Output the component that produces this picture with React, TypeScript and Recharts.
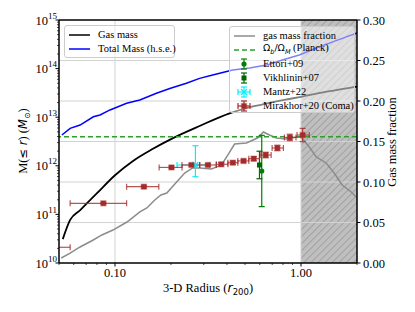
import React from 'react';
import { ComposedChart, Line, Scatter, XAxis, YAxis, ErrorBar, ReferenceLine, ReferenceArea } from 'recharts';

const serif = '"Liberation Serif", "Times New Roman", serif';
const mathFont = '"DejaVu Sans", sans-serif';

// gas mass profile, left axis (M_sun)
const gasMassR = [0.0524, 0.0574, 0.065, 0.0798, 0.1, 0.125, 0.16, 0.205, 0.285, 0.413, 0.5, 0.6, 0.8, 1.0, 1.4, 2.0];
const gasMassM = [3.1e10, 7.7e10, 1.23e11, 2.7e11, 6.4e11, 1.26e12, 2.24e12, 3.72e12, 6.6e12, 1.2e13, 1.51e13, 1.78e13, 2.24e13, 2.63e13, 3.39e13, 4.27e13];

// hydrostatic total mass, left axis
const totalMassR = [0.0518, 0.0574, 0.0649, 0.0765, 0.0831, 0.094, 0.1155, 0.136, 0.167, 0.197, 0.242, 0.285, 0.335, 0.429, 0.529, 0.652, 0.794, 0.979, 1.21, 1.47, 2.0];
const totalMassM = [4.3e12, 5.9e12, 6.9e12, 1.02e13, 1.11e13, 1.41e13, 1.93e13, 2.26e13, 3.1e13, 3.9e13, 5.0e13, 6.3e13, 7.4e13, 9.4e13, 1.03e14, 1.18e14, 1.5e14, 1.9e14, 2.65e14, 3.5e14, 5.4e14];

// gas mass fraction, right axis
const fracR = [0.0514, 0.0574, 0.0649, 0.0764, 0.085, 0.0975, 0.116, 0.1361, 0.1483, 0.1637, 0.1767, 0.1899, 0.2121, 0.237, 0.2616, 0.2853, 0.3306, 0.3741, 0.4133, 0.4394, 0.509, 0.5836, 0.6283, 0.6764, 0.7372, 0.8343, 0.9437, 1.0037, 1.1078, 1.2077, 1.366, 1.5074, 1.6656, 1.8618, 1.98];
const fracF = [0.0062, 0.0123, 0.0198, 0.0284, 0.0346, 0.0407, 0.0506, 0.063, 0.0679, 0.0778, 0.084, 0.0864, 0.0988, 0.1111, 0.1173, 0.1173, 0.116, 0.121, 0.137, 0.1469, 0.1481, 0.1543, 0.1617, 0.158, 0.1543, 0.1531, 0.1556, 0.1556, 0.1432, 0.1309, 0.1235, 0.1111, 0.0963, 0.0877, 0.0815];

const planckFrac = 0.156;

// Mirakhor+20 (Coma); innermost bin is centred left of the axis, only the part from the edge shows
const mirakhorEdgeR = [0.05, 0.0574];
const mirakhorEdgeF = [0.0194, 0.0194];

const mirakhorR = [0.0866, 0.143, 0.2012, 0.2575, 0.316, 0.3728, 0.43, 0.491, 0.5572, 0.646, 0.7465, 0.871, 1.02];
const mirakhorRLo = [0.0574, 0.1155, 0.1727, 0.2293, 0.2853, 0.3505, 0.4045, 0.4574, 0.524, 0.6034, 0.6993, 0.814, 0.952];
const mirakhorRHi = [0.1155, 0.172, 0.2293, 0.2853, 0.3505, 0.4045, 0.4574, 0.524, 0.598, 0.691, 0.804, 0.94, 1.108];
const mirakhorF = [0.0737, 0.0942, 0.118, 0.121, 0.121, 0.1219, 0.1238, 0.126, 0.1288, 0.1333, 0.142, 0.155, 0.158];
const mirakhorFErr = [0.001, 0.0015, 0.0015, 0.0015, 0.0015, 0.002, 0.002, 0.002, 0.0025, 0.0033, 0.0033, 0.004, 0.0082];

// Mantz+22
const mantzR = [0.2706];
const mantzRErr = [[0.055, 0.052]];
const mantzF = [0.121];
const mantzFErr = [[0.0145, 0.0238]];

// Ettori+09 / Vikhlinin+07
const ettoriR = [0.615];
const ettoriF = [0.1136];
const ettoriFErr = [0.044];
const vikhR = [0.598];
const vikhF = [0.121];
const vikhFErr = [0.017];

const radiusMajor = [0.1, 1];
const radiusMinor = [0.05, 0.06, 0.07, 0.08, 0.09, 0.2, 0.3, 0.4, 0.5, 0.6, 0.7, 0.8, 0.9, 2];
const massMajor = [1e10, 1e11, 1e12, 1e13, 1e14, 1e15];
const fracTicks = [0, 0.05, 0.1, 0.15, 0.2, 0.25, 0.3];
const fracGrid = [0.05, 0.1, 0.15, 0.2, 0.25];

const massMinor = massMajor.slice(0, -1).flatMap((d) => [2, 3, 4, 5, 6, 7, 8, 9].map((k) => k * d));

const gasMassRows = gasMassR.map((r, i) => ({ r, v: gasMassM[i] }));
const totalMassRows = totalMassR.map((r, i) => ({ r, v: totalMassM[i] }));
const fracRows = fracR.map((r, i) => ({ r, f: fracF[i] }));
const mirakhorRows = mirakhorR.map((r, i) => ({
  r,
  f: mirakhorF[i],
  rErr: [r - mirakhorRLo[i], mirakhorRHi[i] - r],
  fErr: [mirakhorFErr[i], mirakhorFErr[i]],
}));
const mirakhorEdgeRows = mirakhorEdgeR.map((r, i) => ({ r, f: mirakhorEdgeF[i] }));
const mirakhorEdgeCap = mirakhorEdgeRows.slice(-1);
const mantzRows = mantzR.map((r, i) => ({ r, f: mantzF[i], rErr: mantzRErr[i], fErr: mantzFErr[i] }));
const ettoriRows = ettoriR.map((r, i) => ({ r, f: ettoriF[i], fErr: ettoriFErr[i] }));
const vikhRows = vikhR.map((r, i) => ({ r, f: vikhF[i], fErr: vikhFErr[i] }));

const brown = '#a52a2a';
const cyan = '#00eeff';
const green = '#008000';
const darkGreen = '#006400';
const planckGreen = '#2ca02c';
const gridColor = '#d3d3d3';

const LeftTick = (props: any) => {
  const { x, y, payload } = props;
  const v = payload.value;
  const exp = Math.round(Math.log10(v));
  const major = Math.abs(v - Math.pow(10, exp)) / v < 1e-6;
  return (
    <g>
      <line x1={x} x2={x - (major ? 3.5 : 2)} y1={y} y2={y} stroke="#000" strokeWidth={major ? 1 : 0.7} />
      {major && (
        <text x={x - 2} y={y} dy={4.5} textAnchor="end" fontFamily={serif} fontSize={12.5} fill="#000">
          <tspan>10</tspan>
          <tspan dy={-6} fontSize={9}>{exp}</tspan>
        </text>
      )}
    </g>
  );
};

const RadiusTick = (props: any) => {
  const { x, y, payload } = props;
  const v = payload.value;
  const major = radiusMajor.some((m) => Math.abs(m - v) < 1e-9);
  return (
    <g>
      <line x1={x} x2={x} y1={y} y2={y + (major ? 3.5 : 2)} stroke="#000" strokeWidth={major ? 1 : 0.7} />
      {major && (
        <text x={x} y={y + 14} textAnchor="middle" fontFamily={serif} fontSize={12.5} fill="#000">
          {v.toFixed(2)}
        </text>
      )}
    </g>
  );
};

const FracTick = (props: any) => {
  const { x, y, payload } = props;
  return (
    <g>
      <line x1={x} x2={x + 3.5} y1={y} y2={y} stroke="#000" strokeWidth={1} />
      <text x={x + 6} y={y} dy={4.5} textAnchor="start" fontFamily={serif} fontSize={12.5} fill="#000">
        {payload.value.toFixed(2)}
      </text>
    </g>
  );
};

const squareShape = (size: number, fill: string, halo?: string) => (p: any) => (
  <rect
    x={p.cx - size / 2}
    y={p.cy - size / 2}
    width={size}
    height={size}
    fill={fill}
    stroke={halo || 'none'}
    strokeWidth={halo ? 1.5 : 0}
  />
);
const circleShape = (r: number, fill: string) => (p: any) => <circle cx={p.cx} cy={p.cy} r={r} fill={fill} />;
const crossShape = (p: any) => (
  <g stroke={cyan} strokeWidth={1.2}>
    <line x1={p.cx - 3} x2={p.cx + 3} y1={p.cy - 3} y2={p.cy + 3} />
    <line x1={p.cx - 3} x2={p.cx + 3} y1={p.cy + 3} y2={p.cy - 3} />
  </g>
);
const capShape = (p: any) => (
  <line x1={p.cx} x2={p.cx} y1={p.cy - 3} y2={p.cy + 3} stroke={brown} strokeOpacity={0.8} strokeWidth={1.2} />
);

const legendBox: React.CSSProperties = {
  position: 'absolute',
  background: 'rgba(255,255,255,0.5)',
  border: '1px solid #cccccc',
  borderRadius: 3,
  fontFamily: serif,
  fontSize: 10.5,
  color: '#000',
  boxSizing: 'border-box',
};

const Row = ({ top, icon, children }: { top: number; icon: React.ReactNode; children: React.ReactNode }) => (
  <div style={{ position: 'absolute', left: 3, top, height: 12, display: 'flex', alignItems: 'center', whiteSpace: 'nowrap' }}>
    <svg width={22} height={12} style={{ display: 'block' }}>{icon}</svg>
    <span style={{ marginLeft: 8, lineHeight: '12px' }}>{children}</span>
  </div>
);

const vBar = (color: string) => (
  <g stroke={color} strokeWidth={1.2}>
    <line x1={11} x2={11} y1={1} y2={11} />
    <line x1={8} x2={14} y1={1} y2={1} />
    <line x1={8} x2={14} y1={11} y2={11} />
  </g>
);
const hBar = (color: string) => (
  <g stroke={color} strokeWidth={1.2}>
    <line x1={5} x2={17} y1={6} y2={6} />
    <line x1={5} x2={5} y1={3} y2={9} />
    <line x1={17} x2={17} y1={3} y2={9} />
  </g>
);

export default function App() {
  return (
    <div style={{ position: 'absolute', left: 0, top: 0, width: 415, height: 312, background: '#fff' }}>
      <ComposedChart width={415} height={312} margin={{ top: 20, right: 0, bottom: 19, left: 19 }}>
        <defs>
          <pattern id="hatch" patternUnits="userSpaceOnUse" width={5} height={5} patternTransform="rotate(45)">
            <rect width={5} height={5} fill="#bfbfbf" />
            <line x1={0} y1={0} x2={0} y2={5} stroke="#7d7d7d" strokeWidth={0.9} />
          </pattern>
        </defs>
        <XAxis
          dataKey="r"
          type="number"
          scale="log"
          domain={[0.05, 2]}
          allowDataOverflow
          ticks={[...radiusMinor, ...radiusMajor].sort((a, b) => a - b)}
          interval={0}
          tick={<RadiusTick />}
          tickLine={false}
          tickSize={0}
          tickMargin={0}
          height={30}
          axisLine={{ stroke: '#000', strokeWidth: 1.5 }}
        />
        <YAxis
          yAxisId="m"
          dataKey="v"
          type="number"
          scale="log"
          domain={[1e10, 1e15]}
          allowDataOverflow
          ticks={[...massMajor, ...massMinor].sort((a, b) => a - b)}
          interval={0}
          tick={<LeftTick />}
          tickLine={false}
          tickSize={0}
          tickMargin={0}
          width={40}
          axisLine={{ stroke: '#000', strokeWidth: 1.5 }}
        />
        <YAxis
          yAxisId="f"
          orientation="right"
          dataKey="f"
          type="number"
          domain={[0, 0.3]}
          ticks={fracTicks}
          interval={0}
          tick={<FracTick />}
          tickLine={false}
          tickSize={0}
          tickMargin={0}
          width={58}
          axisLine={{ stroke: '#000', strokeWidth: 1.5 }}
        />

        {/* grid follows the major x ticks and the right-axis ticks */}
        {radiusMajor.map((v) => (
          <ReferenceLine key={'gx' + v} x={v} yAxisId="m" stroke={gridColor} strokeWidth={1} />
        ))}
        {fracGrid.map((v) => (
          <ReferenceLine key={'gy' + v} y={v} yAxisId="f" stroke={gridColor} strokeWidth={1} />
        ))}

        {/* region beyond r200 */}
        <ReferenceArea x1={1} x2={2} yAxisId="m" y1={1e10} y2={1e15} fill="url(#hatch)" fillOpacity={1} stroke="none" />

        <Line data={gasMassRows} dataKey="v" yAxisId="m" type="monotone" stroke="#000" strokeWidth={1.8} dot={false} isAnimationActive={false} />
        <Line data={totalMassRows} dataKey="v" yAxisId="m" type="linear" stroke="#0000ff" strokeWidth={1.5} dot={false} isAnimationActive={false} />
        <Line data={fracRows} dataKey="f" yAxisId="f" type="linear" stroke="#8c8c8c" strokeWidth={1.5} dot={false} isAnimationActive={false} />

        <ReferenceLine y={planckFrac} yAxisId="f" stroke={planckGreen} strokeWidth={1.5} strokeDasharray="5 3" />

        <Scatter data={ettoriRows} dataKey="f" yAxisId="f" shape={circleShape(2.6, green)} isAnimationActive={false}>
          <ErrorBar dataKey="fErr" direction="y" width={3} stroke={green} strokeWidth={1.2} />
        </Scatter>
        <Scatter data={vikhRows} dataKey="f" yAxisId="f" shape={squareShape(5, darkGreen)} isAnimationActive={false}>
          <ErrorBar dataKey="fErr" direction="y" width={3} stroke={darkGreen} strokeWidth={1.2} />
        </Scatter>
        <Scatter data={mantzRows} dataKey="f" yAxisId="f" shape={crossShape} isAnimationActive={false}>
          <ErrorBar dataKey="rErr" direction="x" width={3} stroke={cyan} strokeWidth={1.2} />
          <ErrorBar dataKey="fErr" direction="y" width={3} stroke={cyan} strokeWidth={1.2} />
        </Scatter>
        <Line data={mirakhorEdgeRows} dataKey="f" yAxisId="f" type="linear" stroke={brown} strokeOpacity={0.8} strokeWidth={1.2} dot={false} isAnimationActive={false} />
        <Scatter data={mirakhorEdgeCap} dataKey="f" yAxisId="f" shape={capShape} isAnimationActive={false} />
        <Scatter data={mirakhorRows} dataKey="f" yAxisId="f" shape={squareShape(5, brown, 'rgba(165,42,42,0.35)')} isAnimationActive={false}>
          <ErrorBar dataKey="rErr" direction="x" width={3} stroke={brown} strokeOpacity={0.8} strokeWidth={1.2} />
          <ErrorBar dataKey="fErr" direction="y" width={3} stroke={brown} strokeOpacity={0.8} strokeWidth={1.2} />
        </Scatter>

        <ReferenceLine y={1e15} yAxisId="m" stroke="#000" strokeWidth={1.5} />

        <text x={208} y={292} textAnchor="middle" fontFamily={serif} fontSize={12.5} fill="#000">
          3-D Radius (
          <tspan fontFamily={mathFont} fontStyle="italic">r</tspan>
          <tspan fontFamily={mathFont} fontSize={8.5} dy={2.5}>200</tspan>
          <tspan dy={-2.5}>)</tspan>
        </text>
        <text transform="translate(27,141) rotate(-90)" textAnchor="middle" fontFamily={serif} fontSize={12.5} fill="#000">
          M(
          <tspan fontFamily={mathFont} fontSize={11.5}>≤ </tspan>
          <tspan fontFamily={mathFont} fontSize={11.5} fontStyle="italic">r</tspan>) (
          <tspan fontFamily={mathFont} fontSize={11.5} fontStyle="italic">M</tspan>
          <tspan fontFamily={mathFont} fontSize={8} dy={2.5}>⊙</tspan>
          <tspan dy={-2.5}>)</tspan>
        </text>
        <text transform="translate(396,142) rotate(-90)" textAnchor="middle" fontFamily={serif} fontSize={12.5} fill="#000">
          Gas mass fraction
        </text>
      </ComposedChart>

      <div style={{ ...legendBox, left: 64, top: 25, width: 111, height: 33 }}>
        <Row top={3} icon={<line x1={1} x2={22} y1={6} y2={6} stroke="#000" strokeWidth={1.5} />}>Gas mass</Row>
        <Row top={17} icon={<line x1={1} x2={22} y1={6} y2={6} stroke="#0000ff" strokeWidth={1.5} />}>Total Mass (h.s.e.)</Row>
      </div>

      <div style={{ ...legendBox, left: 229, top: 26, width: 126, height: 87 }}>
        <Row top={3} icon={<line x1={1} x2={22} y1={6} y2={6} stroke="#8c8c8c" strokeWidth={1.5} />}>gas mass fraction</Row>
        <Row top={17} icon={<line x1={1} x2={22} y1={6} y2={6} stroke={planckGreen} strokeWidth={1.5} strokeDasharray="5 3" />}>
          <span style={{ fontFamily: mathFont, fontSize: 9.5 }}>
            Ω<sub style={{ fontSize: 6.5, fontStyle: 'italic' }}>b</sub>/Ω<sub style={{ fontSize: 6.5, fontStyle: 'italic' }}>M</sub>
          </span>{' '}
          (Planck)
        </Row>
        <Row top={31} icon={<g>{vBar(green)}<circle cx={11} cy={6} r={2.6} fill={green} /></g>}>Ettori+09</Row>
        <Row top={45} icon={<g>{vBar(darkGreen)}<rect x={8.5} y={3.5} width={5} height={5} fill={darkGreen} /></g>}>Vikhlinin+07</Row>
        <Row
          top={59}
          icon={
            <g>
              {hBar(cyan)}
              {vBar(cyan)}
              <line x1={8} x2={14} y1={3} y2={9} stroke={cyan} strokeWidth={1.2} />
              <line x1={8} x2={14} y1={9} y2={3} stroke={cyan} strokeWidth={1.2} />
            </g>
          }
        >
          Mantz+22
        </Row>
        <Row
          top={73}
          icon={
            <g>
              {hBar(brown)}
              {vBar(brown)}
              <rect x={8.5} y={3.5} width={5} height={5} fill={brown} stroke="rgba(165,42,42,0.35)" strokeWidth={1.5} />
            </g>
          }
        >
          Mirakhor+20 (Coma)
        </Row>
      </div>
    </div>
  );
}
